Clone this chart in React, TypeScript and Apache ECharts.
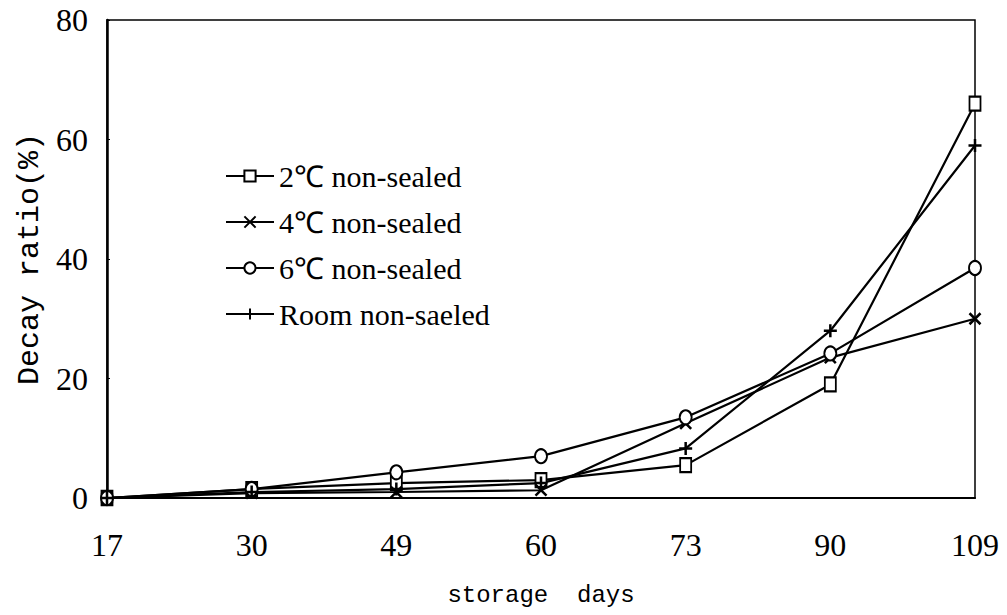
import React, { useEffect, useRef } from "react";
import * as echarts from "echarts";

const days = ["17", "30", "49", "60", "73", "90", "109"];
const c2 = [0, 1.5, 2.5, 3, 5.5, 19, 66];
const c4 = [0, 0.8, 1, 1.3, 12.5, 23.5, 30];
const c6 = [0, 1.5, 4.3, 7, 13.5, 24.2, 38.5];
const room = [0, 1, 1.5, 2.5, 8.3, 28, 59];
const names = ["2℃ non-sealed", "4℃ non-sealed", "6℃ non-sealed", "Room non-saeled"];
const yTicks = [0, 20, 40, 60, 80];

const X_PATH = "path://M0,0L10,10M10,0L0,10";
const PLUS_PATH = "path://M5,0L5,10M0,5L10,5";

export default function App() {
  const ref = useRef<HTMLDivElement>(null);
  useEffect(() => {
    if (!ref.current) return;
    const chart = echarts.init(ref.current, null, { renderer: "svg" });
    const serif = "Liberation Serif";
    const mono = "Liberation Mono";
    const mk = (name: string, data: number[], symbol: string, size: any, empty: boolean) => ({
      name,
      type: "line",
      data,
      symbol,
      symbolSize: size,
      showSymbol: true,
      lineStyle: { color: "#000", width: 2.2 },
      itemStyle: empty
        ? { color: "#000", borderColor: "#000", borderWidth: 2 }
        : { color: "#000", borderColor: "#000", borderWidth: 2.5 },
      emphasis: { disabled: true },
    });
    chart.setOption({
      animation: false,
      backgroundColor: "#fff",
      grid: {
        left: 107,
        right: 32,
        top: 20,
        bottom: 117,
        show: true,
        borderColor: "#000",
        borderWidth: 1.5,
      },
      legend: {
        orient: "vertical",
        left: 220,
        top: 156,
        itemGap: 16,
        itemWidth: 48,
        itemHeight: 14,
        textStyle: { fontFamily: serif, fontSize: 30, color: "#000" },
        data: names,
      },
      xAxis: {
        type: "category",
        data: days,
        boundaryGap: false,
        axisLine: { lineStyle: { color: "#000", width: 2 } },
        axisTick: { show: false },
        axisLabel: { fontFamily: serif, fontSize: 32, color: "#000", margin: 31 },
        name: "storage  days",
        nameLocation: "middle",
        nameGap: 85,
        nameTextStyle: { fontFamily: mono, fontSize: 24, color: "#000" },
        splitLine: { show: false },
      },
      yAxis: {
        type: "value",
        min: yTicks[0],
        max: yTicks[yTicks.length - 1],
        interval: 20,
        axisLine: { show: true, lineStyle: { color: "#000", width: 2.5 } },
        axisTick: { show: true, inside: true, length: 3, lineStyle: { color: "#000" } },
        axisLabel: { fontFamily: serif, fontSize: 32, color: "#000", margin: 19 },
        splitLine: { show: false },
        name: "Decay ratio(%)",
        nameLocation: "middle",
        nameGap: 61,
        nameRotate: 90,
        nameTextStyle: { fontFamily: mono, fontSize: 30, color: "#000" },
      },
      series: [
        mk(names[0], c2, "emptyRect", [11, 14], true),
        mk(names[1], c4, X_PATH, 11, false),
        mk(names[2], c6, "emptyCircle", [12, 14], true),
        mk(names[3], room, PLUS_PATH, 13, false),
      ],
    });
    return () => chart.dispose();
  }, []);
  return (
    <div
      ref={ref}
      style={{ position: "fixed", left: 0, top: 0, width: 1007, height: 615 }}
    />
  );
}
